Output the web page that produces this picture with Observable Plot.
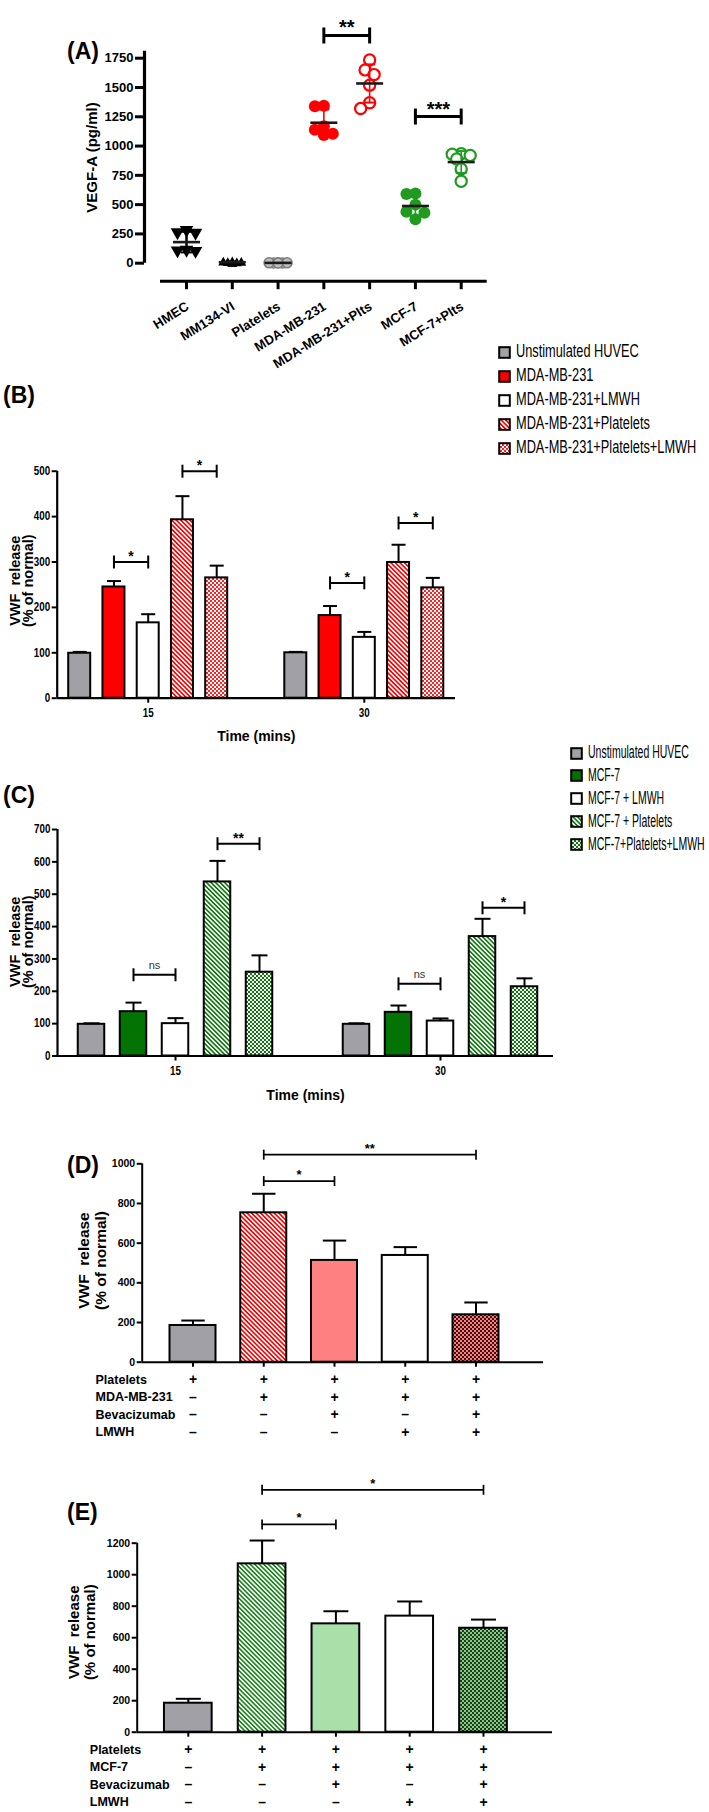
<!DOCTYPE html>
<html><head><meta charset="utf-8">
<script src="https://cdn.jsdelivr.net/npm/d3@7"></script>
<script src="https://cdn.jsdelivr.net/npm/@observablehq/plot@0.6"></script>
<style>
html,body{margin:0;padding:0;background:#fff;}
#page{position:relative;width:709px;height:1812px;overflow:hidden;font-family:'Liberation Sans',Arial,Helvetica,sans-serif;background:#fff;}
</style></head>
<body>
<svg width="0" height="0" style="position:absolute">
<defs>
<pattern id="hatchRed" width="3.2" height="3.2" patternUnits="userSpaceOnUse" patternTransform="rotate(-45)"><rect width="3.2" height="3.2" fill="#fff"/><rect width="1.6" height="3.2" fill="#ff0000"/></pattern>
<pattern id="hatchGreen" width="3.2" height="3.2" patternUnits="userSpaceOnUse" patternTransform="rotate(-45)"><rect width="3.2" height="3.2" fill="#fff"/><rect width="1.6" height="3.2" fill="#0b7a0b"/></pattern>
<pattern id="hatchGreenE" width="3.2" height="3.2" patternUnits="userSpaceOnUse" patternTransform="rotate(-45)"><rect width="3.2" height="3.2" fill="#fff"/><rect width="1.6" height="3.2" fill="#17871a"/></pattern>
<pattern id="checkRed" width="4" height="4" patternUnits="userSpaceOnUse"><rect width="4" height="4" fill="#ff2020"/><rect width="2" height="2" fill="#fff"/><rect x="2" y="2" width="2" height="2" fill="#fff"/></pattern>
<pattern id="checkGreen" width="4" height="4" patternUnits="userSpaceOnUse"><rect width="4" height="4" fill="#0b7a0b"/><rect width="2" height="2" fill="#fff"/><rect x="2" y="2" width="2" height="2" fill="#fff"/></pattern>
<pattern id="checkD" width="4" height="4" patternUnits="userSpaceOnUse"><rect width="4" height="4" fill="#ff7a7a"/><rect width="2" height="2" fill="#3a1414"/><rect x="2" y="2" width="2" height="2" fill="#3a1414"/></pattern>
<pattern id="checkE" width="4" height="4" patternUnits="userSpaceOnUse"><rect width="4" height="4" fill="#86cc86"/><rect width="2" height="2" fill="#1d3a1d"/><rect x="2" y="2" width="2" height="2" fill="#1d3a1d"/></pattern>
</defs></svg>
<div id="page"></div>
<script>
// ---------------- DATA ----------------
// Panel A : VEGF-A (pg/ml), individual replicates
const A_categories = ["HMEC","MM134-VI","Platelets","MDA-MB-231","MDA-MB-231+Plts","MCF-7","MCF-7+Plts"];
const A_HMEC      = [275, 250, 255, 100, 95, 105];
const A_MM134     = [5, 10, 15, 0, 8, 12];
const A_Platelets = [2, 3, 2, 4, 3, 2];
const A_MDA       = [1345, 1340, 1140, 1095, 1105, 1170];
const A_MDA_Plts  = [1735, 1650, 1610, 1520, 1370, 1320];
const A_MCF7      = [595, 590, 500, 430, 440, 375];
const A_MCF7_Plts = [935, 930, 920, 890, 805, 700];
const A_yTicks = [0, 250, 500, 750, 1000, 1250, 1500, 1750];
const A_sig = [{from: 3, to: 4, y: 1944, label: "**"}, {from: 5, to: 6, y: 1252, label: "***"}];

// Panel B : VWF release, MDA-MB-231
const B_times  = ["15", "30"];
const B_series = ["Unstimulated HUVEC","MDA-MB-231","MDA-MB-231+LMWH","MDA-MB-231+Platelets","MDA-MB-231+Platelets+LMWH"];
const B_mean15 = [99, 245, 166, 393, 265];
const B_err15  = [3, 13, 19, 52, 27];
const B_mean30 = [100, 182, 134, 299, 243];
const B_err30  = [2, 21, 12, 39, 22];
const B_yTicks = [0, 100, 200, 300, 400, 500];
const B_sig = [{t: 0, from: 1, to: 2, y: 300, label: "*"}, {t: 0, from: 3, to: 4, y: 500, label: "*"},
               {t: 1, from: 1, to: 2, y: 254, label: "*"}, {t: 1, from: 3, to: 4, y: 386, label: "*"}];

// Panel C : VWF release, MCF-7
const C_times  = ["15", "30"];
const C_series = ["Unstimulated HUVEC","MCF-7","MCF-7 + LMWH","MCF-7 + Platelets","MCF-7+Platelets+LMWH"];
const C_mean15 = [98, 137, 100, 538, 259];
const C_err15  = [3, 28, 17, 65, 52];
const C_mean30 = [98, 135, 108, 369, 214];
const C_err30  = [3, 21, 8, 55, 26];
const C_yTicks = [0, 100, 200, 300, 400, 500, 600, 700];
const C_sig = [{t: 0, from: 1, to: 2, y: 251, label: "ns"}, {t: 0, from: 3, to: 4, y: 656, label: "**"},
               {t: 1, from: 1, to: 2, y: 223, label: "ns"}, {t: 1, from: 3, to: 4, y: 458, label: "*"}];

// Panel D : MDA-MB-231 + Bevacizumab / LMWH
const D_mean = [185, 753, 513, 538, 239];
const D_err  = [25, 96, 100, 42, 62];
const D_yTicks = [0, 200, 400, 600, 800, 1000];
const D_sig = [{from: 1, to: 4, y: 1046, label: "**"}, {from: 1, to: 2, y: 913, label: "*"}];
const D_rowNames = ["Platelets", "MDA-MB-231", "Bevacizumab", "LMWH"];
const D_platelets = ["+", "+", "+", "+", "+"];
const D_cells     = ["–", "+", "+", "+", "+"];
const D_bev       = ["–", "–", "+", "–", "+"];
const D_lmwh      = ["–", "–", "–", "+", "+"];

// Panel E : MCF-7 + Bevacizumab / LMWH
const E_mean = [184, 1069, 688, 737, 660];
const E_err  = [28, 148, 80, 93, 55];
const E_yTicks = [0, 200, 400, 600, 800, 1000, 1200];
const E_sig = [{from: 1, to: 4, y: 1539, label: "*"}, {from: 1, to: 2, y: 1319, label: "*"}];
const E_rowNames = ["Platelets", "MCF-7", "Bevacizumab", "LMWH"];
const E_platelets = ["+", "+", "+", "+", "+"];
const E_cells     = ["–", "+", "+", "+", "+"];
const E_bev       = ["–", "–", "+", "–", "+"];
const E_lmwh      = ["–", "–", "–", "+", "+"];

// ---------------- HELPERS ----------------
const FONT = "'Liberation Sans', Arial, Helvetica, sans-serif";
const W = 709;
const page = document.getElementById("page");
const svgNS = "http://www.w3.org/2000/svg";
const fmt = d3.format("d");
const vline = {draw(c, s) { const r = Math.sqrt(s / Math.PI); c.moveTo(0, -r); c.lineTo(0, r); }};
const hline = {draw(c, s) { const r = Math.sqrt(s / Math.PI); c.moveTo(-r, 0); c.lineTo(r, 0); }};
const triDown = {draw(c, s) { const r = Math.sqrt(s / Math.PI); c.moveTo(0, r); c.lineTo(-r, -r * 0.75); c.lineTo(r, -r * 0.75); c.closePath(); }};
const triUp = {draw(c, s) { const r = Math.sqrt(s / Math.PI); c.moveTo(0, -r); c.lineTo(-r, r * 0.75); c.lineTo(r, r * 0.75); c.closePath(); }};

function scaleTexts(svg, label, sx) {
  svg.querySelectorAll(`g[aria-label="${label}"] text`).forEach(t => {
    const tr = t.getAttribute("transform");
    if (tr) t.setAttribute("transform", tr + ` scale(${sx},1)`);
    else { const x = +t.getAttribute("x") || 0; t.setAttribute("transform", `translate(${x},0) scale(${sx},1) translate(${-x},0)`); }
  });
}
function addPlot(plot, top) {
  plot.style.position = "absolute"; plot.style.left = "0px"; plot.style.top = top + "px";
  page.appendChild(plot);
}
function addText(str, x, yc, size, opts = {}) {
  const d = document.createElement("div");
  d.textContent = str;
  const shift = opts.paren ? 0.5865 : 0.4885;
  Object.assign(d.style, {position: "absolute", left: x + "px", top: (yc - shift * size) + "px",
    fontSize: size + "px", lineHeight: size + "px", fontWeight: opts.weight || "normal",
    whiteSpace: "nowrap", fontFamily: FONT, color: "#000"});
  if (opts.scaleX) { d.style.transform = `scaleX(${opts.scaleX})`; d.style.transformOrigin = "0 50%"; }
  page.appendChild(d);
}
function addLegend(items, fills, L) {
  items.forEach((t, i) => {
    const yc = L.y0 + i * L.step;
    const s = document.createElementNS(svgNS, "svg");
    s.setAttribute("width", 13); s.setAttribute("height", 13);
    Object.assign(s.style, {position: "absolute", left: L.x + "px", top: (yc - 6.5) + "px"});
    const r = document.createElementNS(svgNS, "rect");
    r.setAttribute("x", 1.2); r.setAttribute("y", 1.2); r.setAttribute("width", 10.6); r.setAttribute("height", 10.6);
    r.setAttribute("fill", fills[i]); r.setAttribute("stroke", "#000"); r.setAttribute("stroke-width", 2);
    s.appendChild(r); page.appendChild(s);
    addText(t, L.textX, yc, L.size, {scaleX: L.scaleX});
  });
}
// deterministic beeswarm: horizontal offsets (px) so replicate points don't fully overlap
function swarm(values, ppu, minDist, step, maxOff) {
  const order = d3.range(values.length).sort((a, b) => values[b] - values[a]);
  const placed = [], off = new Array(values.length);
  for (const i of order) {
    const y = values[i] * ppu;
    let best = 0, bestScore = -Infinity, done = false;
    for (let k = 0; k * step <= maxOff && !done; k++) {
      for (const s of (k === 0 ? [0] : [-k * step, k * step])) {
        const md = placed.length ? d3.min(placed, p => Math.hypot(p.x - s, p.y - y)) : Infinity;
        if (md >= minDist) { best = s; done = true; break; }
        if (md > bestScore) { bestScore = md; best = s; }
      }
    }
    off[i] = best; placed.push({x: best, y});
  }
  return off;
}
function sigMarks(sig, posOf, o) {
  const rows = sig.map(d => ({...d, x1: posOf(d, d.from), x2: posOf(d, d.to)}));
  const ends = rows.flatMap(d => [{x: d.x1, y: d.y}, {x: d.x2, y: d.y}]);
  return [
    Plot.ruleY(rows, {y: "y", x1: "x1", x2: "x2", stroke: "#000", strokeWidth: o.sw}),
    Plot.dot(ends, {x: "x", y: "y", symbol: vline, r: o.cap, stroke: "#000", strokeWidth: o.sw, fill: "none"}),
    Plot.text(rows.filter(d => d.label !== "ns"), {x: d => (d.x1 + d.x2) / 2, y: "y", text: "label", lineAnchor: "bottom",
      dy: o.dy, fontSize: o.fs, fontWeight: "bold", fill: "#000"}),
    Plot.text(rows.filter(d => d.label === "ns"), {x: d => (d.x1 + d.x2) / 2, y: "y", text: "label", lineAnchor: "bottom",
      dy: -6, fontSize: 11, fontWeight: "normal", fill: "#333", ariaLabel: "ns"})
  ];
}
const baseStyle = {fontFamily: FONT, fontSize: "12px", color: "#000", background: "transparent", overflow: "visible"};

// ---------------- PANEL A ----------------
{
  const L = {top: 0, height: 345, yAxisX: 144, xAxisL: 160, xAxisR: 486.7, firstCat: 186, lastCat: 460.7,
             y0: 262.7, yTickTop: 57.7, xAxisY: 280.7, yAxisTop: 50.7};
  const step = (L.lastCat - L.firstCat) / (A_categories.length - 1);
  const ppu = (L.y0 - L.yTickTop) / d3.max(A_yTicks);
  const yMin = -(L.xAxisY - L.y0) / ppu;
  const yAxisTopVal = (L.y0 - L.yAxisTop) / ppu;
  const xDom = [(L.yAxisX - L.firstCat) / step, (L.xAxisR - L.firstCat) / step];
  const xAxisStart = (L.xAxisL - L.firstCat) / step;
  const green = "#1f9b1f";
  const groups = [
    {values: A_HMEC, symbol: triDown, r: 6.8, fill: "#000", stroke: "none", line: "#000", sdw: 2.5},
    {values: A_MM134, symbol: triUp, r: 5, fill: "#000", stroke: "none", line: "#000", sdw: 2},
    {values: A_Platelets, symbol: "circle", r: 5, fill: "#bdbdbd", stroke: "#7d7d7d", sw: 1.5, line: "#7d7d7d", sdw: 1.5},
    {values: A_MDA, symbol: "circle", r: 6, fill: "#ff0000", stroke: "none", line: "#ff0000", sdw: 1.6},
    {values: A_MDA_Plts, symbol: "circle", r: 5.6, fill: "#fff", stroke: "#ff0000", sw: 2.2, line: "#ff0000", sdw: 1.6},
    {values: A_MCF7, symbol: "circle", r: 6, fill: green, stroke: "none", line: green, sdw: 1.6},
    {values: A_MCF7_Plts, symbol: "circle", r: 5.6, fill: "#fff", stroke: green, sw: 2.2, line: green, sdw: 1.6}
  ];
  const stats = groups.map((g, i) => ({i, mean: d3.mean(g.values), sd: d3.deviation(g.values), color: g.line, sdw: g.sdw}));
  const caps = stats.flatMap(s => [{i: s.i, y: s.mean - s.sd, color: s.color}, {i: s.i, y: s.mean + s.sd, color: s.color}]);
  const dotMarks = groups.map((g, i) => {
    const off = swarm(g.values, ppu, 10, 4.5, 9);
    const pts = g.values.map((v, j) => ({x: i + off[j] / step, v}));
    return Plot.dot(pts, {x: "x", y: "v", symbol: g.symbol, r: g.r, fill: g.fill, stroke: g.stroke, strokeWidth: g.sw || 1});
  });
  const plot = Plot.plot({
    width: W, height: L.height,
    marginLeft: L.yAxisX, marginRight: W - L.xAxisR, marginTop: L.yTickTop, marginBottom: L.height - L.xAxisY,
    x: {domain: xDom, axis: null},
    y: {domain: [yMin, d3.max(A_yTicks)], axis: null},
    color: {type: "identity"},
    style: baseStyle,
    marks: [
      Plot.ruleX([xDom[0]], {y1: 0, y2: yAxisTopVal, stroke: "#000", strokeWidth: 3.2}),
      Plot.axisY({ticks: A_yTicks, tickFormat: fmt, tickSize: 9, tickPadding: 2, fontSize: 13, fontWeight: "bold", strokeWidth: 3, label: null}),
      Plot.ruleY([yMin], {x1: xAxisStart, x2: xDom[1], stroke: "#000", strokeWidth: 3}),
      Plot.axisX({ticks: d3.range(A_categories.length), tickFormat: () => "", tickSize: 8.5, strokeWidth: 3, label: null}),
      Plot.text(A_categories, {x: (d, i) => i, text: d => d, frameAnchor: "bottom", rotate: -32, textAnchor: "end",
        lineAnchor: "middle", dy: 24, dx: 1, fontSize: 13.2, fontWeight: "bold", fill: "#000"}),
      Plot.text(["VEGF-A (pg/ml)"], {frameAnchor: "left", rotate: -90, textAnchor: "middle", lineAnchor: "middle",
        dx: -52.3, dy: -12.2, fontSize: 15, fontWeight: "bold", fill: "#000"}),
      ...dotMarks,
      Plot.ruleX(stats, {x: "i", y1: d => d.mean - d.sd, y2: d => d.mean + d.sd, stroke: "color", strokeWidth: "sdw"}),
      Plot.dot(caps, {x: "i", y: "y", symbol: hline, r: 5.5, stroke: "color", strokeWidth: 2, fill: "none"}),
      Plot.dot(stats, {x: "i", y: "mean", symbol: hline, r: 13.5, stroke: "#1a1a1a", strokeWidth: 2.6, fill: "none"}),
      ...sigMarks(A_sig, (d, i) => i, {sw: 3, cap: 8, dy: -1, fs: 20})
    ]
  });
  addPlot(plot, L.top);
  addText("(A)", 67, 53, 23, {weight: "bold", paren: true});
}

// ---------------- PANELS B & C (grouped bars) ----------------
function groupedPanel(cfg) {
  const step = cfg.barStep;
  const G = (cfg.c1 - cfg.c0) / step;            // group spacing in bar slots
  const hw = cfg.barWidth / step / 2;
  const xDom = [(cfg.yAxisX - cfg.c0) / step, (cfg.xAxisR - cfg.c0) / step];
  const yMax = d3.max(cfg.yTicks);
  const rows = [];
  [cfg.mean15, cfg.mean30].forEach((means, g) => means.forEach((m, s) => {
    rows.push({g, s, pos: g * G + (s - 2), mean: m, err: (g === 0 ? cfg.err15 : cfg.err30)[s], fill: cfg.fills[s]});
  }));
  const plot = Plot.plot({
    width: W, height: cfg.height,
    marginLeft: cfg.yAxisX, marginRight: W - cfg.xAxisR, marginTop: cfg.yTop - cfg.top, marginBottom: cfg.top + cfg.height - cfg.y0,
    x: {domain: xDom, axis: null},
    y: {domain: [0, yMax], axis: null},
    color: {type: "identity"},
    style: baseStyle,
    marks: [
      Plot.rect(rows, {x1: d => d.pos - hw, x2: d => d.pos + hw, y1: 0, y2: "mean", fill: "fill", stroke: "#000", strokeWidth: 2}),
      Plot.ruleX(rows, {x: "pos", y1: "mean", y2: d => d.mean + d.err, stroke: "#000", strokeWidth: 2}),
      Plot.dot(rows, {x: "pos", y: d => d.mean + d.err, symbol: hline, r: cfg.capHalf, stroke: "#000", strokeWidth: 2, fill: "none"}),
      Plot.ruleX([xDom[0]], {y1: 0, y2: yMax, stroke: "#000", strokeWidth: 2.2}),
      Plot.ruleY([0], {stroke: "#000", strokeWidth: 2.2}),
      Plot.axisY({ticks: cfg.yTicks, tickFormat: fmt, tickSize: 5, tickPadding: 2, fontSize: 12, fontWeight: "bold", strokeWidth: 2, label: null}),
      Plot.axisX({ticks: [0, G], tickFormat: d => cfg.times[Math.round(d / G)], tickSize: 5, tickPadding: 5,
        fontSize: 12, fontWeight: "bold", strokeWidth: 2, label: null}),
      Plot.text(["Time (mins)"], {frameAnchor: "bottom", dy: cfg.titleDy, lineAnchor: "middle", fontSize: 14, fontWeight: "bold",
        fill: "#000", ariaLabel: "xtitle"}),
      Plot.text(["VWF\u00a0\u00a0release\n(% of normal)"], {frameAnchor: "left", rotate: -90, textAnchor: "middle", lineAnchor: "middle",
        dx: cfg.ylabDx, dy: cfg.ylabDy, lineHeight: 0.95, fontSize: 14.5, fontWeight: "bold", fill: "#000", ariaLabel: "ylab"}),
      ...sigMarks(cfg.sig, (d, s) => d.t * G + (s - 2), {sw: 2, cap: 6.5, dy: -1, fs: 14})
    ]
  });
  scaleTexts(plot, "y-axis tick label", 0.82);
  scaleTexts(plot, "x-axis tick label", 0.82);
  scaleTexts(plot, "xtitle", 0.7);
  scaleTexts(plot, "ylab", 1.2);
  addPlot(plot, cfg.top);
}

groupedPanel({top: 440, height: 310, yAxisX: 56.7, xAxisR: 455, c0: 147.7, c1: 363.8, barStep: 34.25, barWidth: 22,
  y0: 697.7, yTop: 470.7, yTicks: B_yTicks, mean15: B_mean15, err15: B_err15, mean30: B_mean30, err30: B_err30,
  times: B_times, sig: B_sig, capHalf: 7, titleDy: 38.3, ylabDx: -35, ylabDy: -4,
  fills: ["#a0a0a6", "#ff0000", "#ffffff", "url(#hatchRed)", "url(#checkRed)"]});
addLegend(B_series, ["#a0a0a6", "#ff0000", "#ffffff", "url(#hatchRed)", "url(#checkRed)"],
  {x: 498, textX: 516, y0: 352, step: 24, size: 17.5, scaleX: 0.73});
addText("(B)", 3, 397, 23, {weight: "bold", paren: true});

groupedPanel({top: 745, height: 365, yAxisX: 57, xAxisR: 553, c0: 175, c1: 440, barStep: 42, barWidth: 26.5,
  y0: 1055.5, yTop: 829, yTicks: C_yTicks, mean15: C_mean15, err15: C_err15, mean30: C_mean30, err30: C_err30,
  times: C_times, sig: C_sig, capHalf: 8, titleDy: 39.5, ylabDx: -35.5, ylabDy: -1,
  fills: ["#a0a0a6", "#037303", "#ffffff", "url(#hatchGreen)", "url(#checkGreen)"]});
addLegend(C_series, ["#a0a0a6", "#037303", "#ffffff", "url(#hatchGreen)", "url(#checkGreen)"],
  {x: 570, textX: 588, y0: 753, step: 22.8, size: 17.5, scaleX: 0.6});
addText("(C)", 3, 797, 23, {weight: "bold", paren: true});

// ---------------- PANELS D & E ----------------
function treatPanel(cfg) {
  const step = cfg.barStep, hw = cfg.barWidth / step / 2;
  const xDom = [(cfg.yAxisX - cfg.firstBar) / step, (cfg.xAxisR - cfg.firstBar) / step];
  const yMax = d3.max(cfg.yTicks);
  const rows = cfg.mean.map((m, i) => ({i, mean: m, err: cfg.err[i], fill: cfg.fills[i]}));
  const rowMarks = cfg.rowNames.flatMap((name, r) => {
    const dy = 17.3 + r * 17.6;
    return [
      Plot.text([name], {frameAnchor: "bottom-left", dx: cfg.rowDx, dy, textAnchor: "start", lineAnchor: "middle",
        fontSize: 12.5, fontWeight: "bold", fill: "#000"}),
      Plot.text(cfg.rowSymbols[r], {x: (d, i) => i, text: d => d, frameAnchor: "bottom", dy, lineAnchor: "middle",
        fontSize: 14, fontWeight: "bold", fill: "#000"})
    ];
  });
  const plot = Plot.plot({
    width: W, height: cfg.height,
    marginLeft: cfg.yAxisX, marginRight: W - cfg.xAxisR, marginTop: cfg.yTop - cfg.top, marginBottom: cfg.top + cfg.height - cfg.y0,
    x: {domain: xDom, axis: null},
    y: {domain: [0, yMax], axis: null},
    color: {type: "identity"},
    style: baseStyle,
    marks: [
      Plot.rect(rows, {x1: d => d.i - hw, x2: d => d.i + hw, y1: 0, y2: "mean", fill: "fill", stroke: "#000", strokeWidth: 2}),
      Plot.ruleX(rows, {x: "i", y1: "mean", y2: d => d.mean + d.err, stroke: "#000", strokeWidth: 2}),
      Plot.dot(rows, {x: "i", y: d => d.mean + d.err, symbol: hline, r: cfg.capHalf, stroke: "#000", strokeWidth: 2, fill: "none"}),
      Plot.ruleX([xDom[0]], {y1: 0, y2: yMax, stroke: "#000", strokeWidth: 2}),
      Plot.ruleY([0], {stroke: "#000", strokeWidth: 2}),
      Plot.axisY({ticks: cfg.yTicks, tickFormat: fmt, tickSize: 5, tickPadding: 2, fontSize: 10.5, fontWeight: "bold", strokeWidth: 2, label: null}),
      Plot.axisX({ticks: d3.range(cfg.mean.length), tickFormat: () => "", tickSize: 5, strokeWidth: 2, label: null}),
      Plot.text(["VWF\u00a0\u00a0release\n(% of normal)"], {frameAnchor: "left", rotate: -90, textAnchor: "middle", lineAnchor: "middle",
        dx: cfg.ylabDx, dy: cfg.ylabDy, lineHeight: cfg.ylabLH, fontSize: cfg.ylabFont, fontWeight: "bold", fill: "#000"}),
      ...sigMarks(cfg.sig, (d, i) => i, {sw: 1.7, cap: 5, dy: -2, fs: 13}),
      ...rowMarks
    ]
  });
  addPlot(plot, cfg.top);
}

treatPanel({top: 1130, height: 310, yAxisX: 141.7, xAxisR: 543, firstBar: 192.5, barStep: 70.75, barWidth: 46,
  y0: 1361.7, yTop: 1163.3, yTicks: D_yTicks, mean: D_mean, err: D_err, sig: D_sig, capHalf: 11.7,
  rowNames: D_rowNames, rowSymbols: [D_platelets, D_cells, D_bev, D_lmwh], rowDx: -46.7,
  ylabDx: -50, ylabDy: -2.5, ylabFont: 15.5, ylabLH: 1.08,
  fills: ["#a0a0a6", "url(#hatchRed)", "#ff8080", "#ffffff", "url(#checkD)"]});
addText("(D)", 67, 1167, 23, {weight: "bold", paren: true});

treatPanel({top: 1460, height: 352, yAxisX: 136.7, xAxisR: 552, firstBar: 187.8, barStep: 73.8, barWidth: 47.7,
  y0: 1731.7, yTop: 1542.7, yTicks: E_yTicks, mean: E_mean, err: E_err, sig: E_sig, capHalf: 12.5,
  rowNames: E_rowNames, rowSymbols: [E_platelets, E_cells, E_bev, E_lmwh], rowDx: -47.4,
  ylabDx: -55, ylabDy: -5.5, ylabFont: 15, ylabLH: 1.07,
  fills: ["#a0a0a6", "url(#hatchGreenE)", "#a9dfa9", "#ffffff", "url(#checkE)"]});
addText("(E)", 67, 1514, 23, {weight: "bold", paren: true});
</script>
</body></html>
